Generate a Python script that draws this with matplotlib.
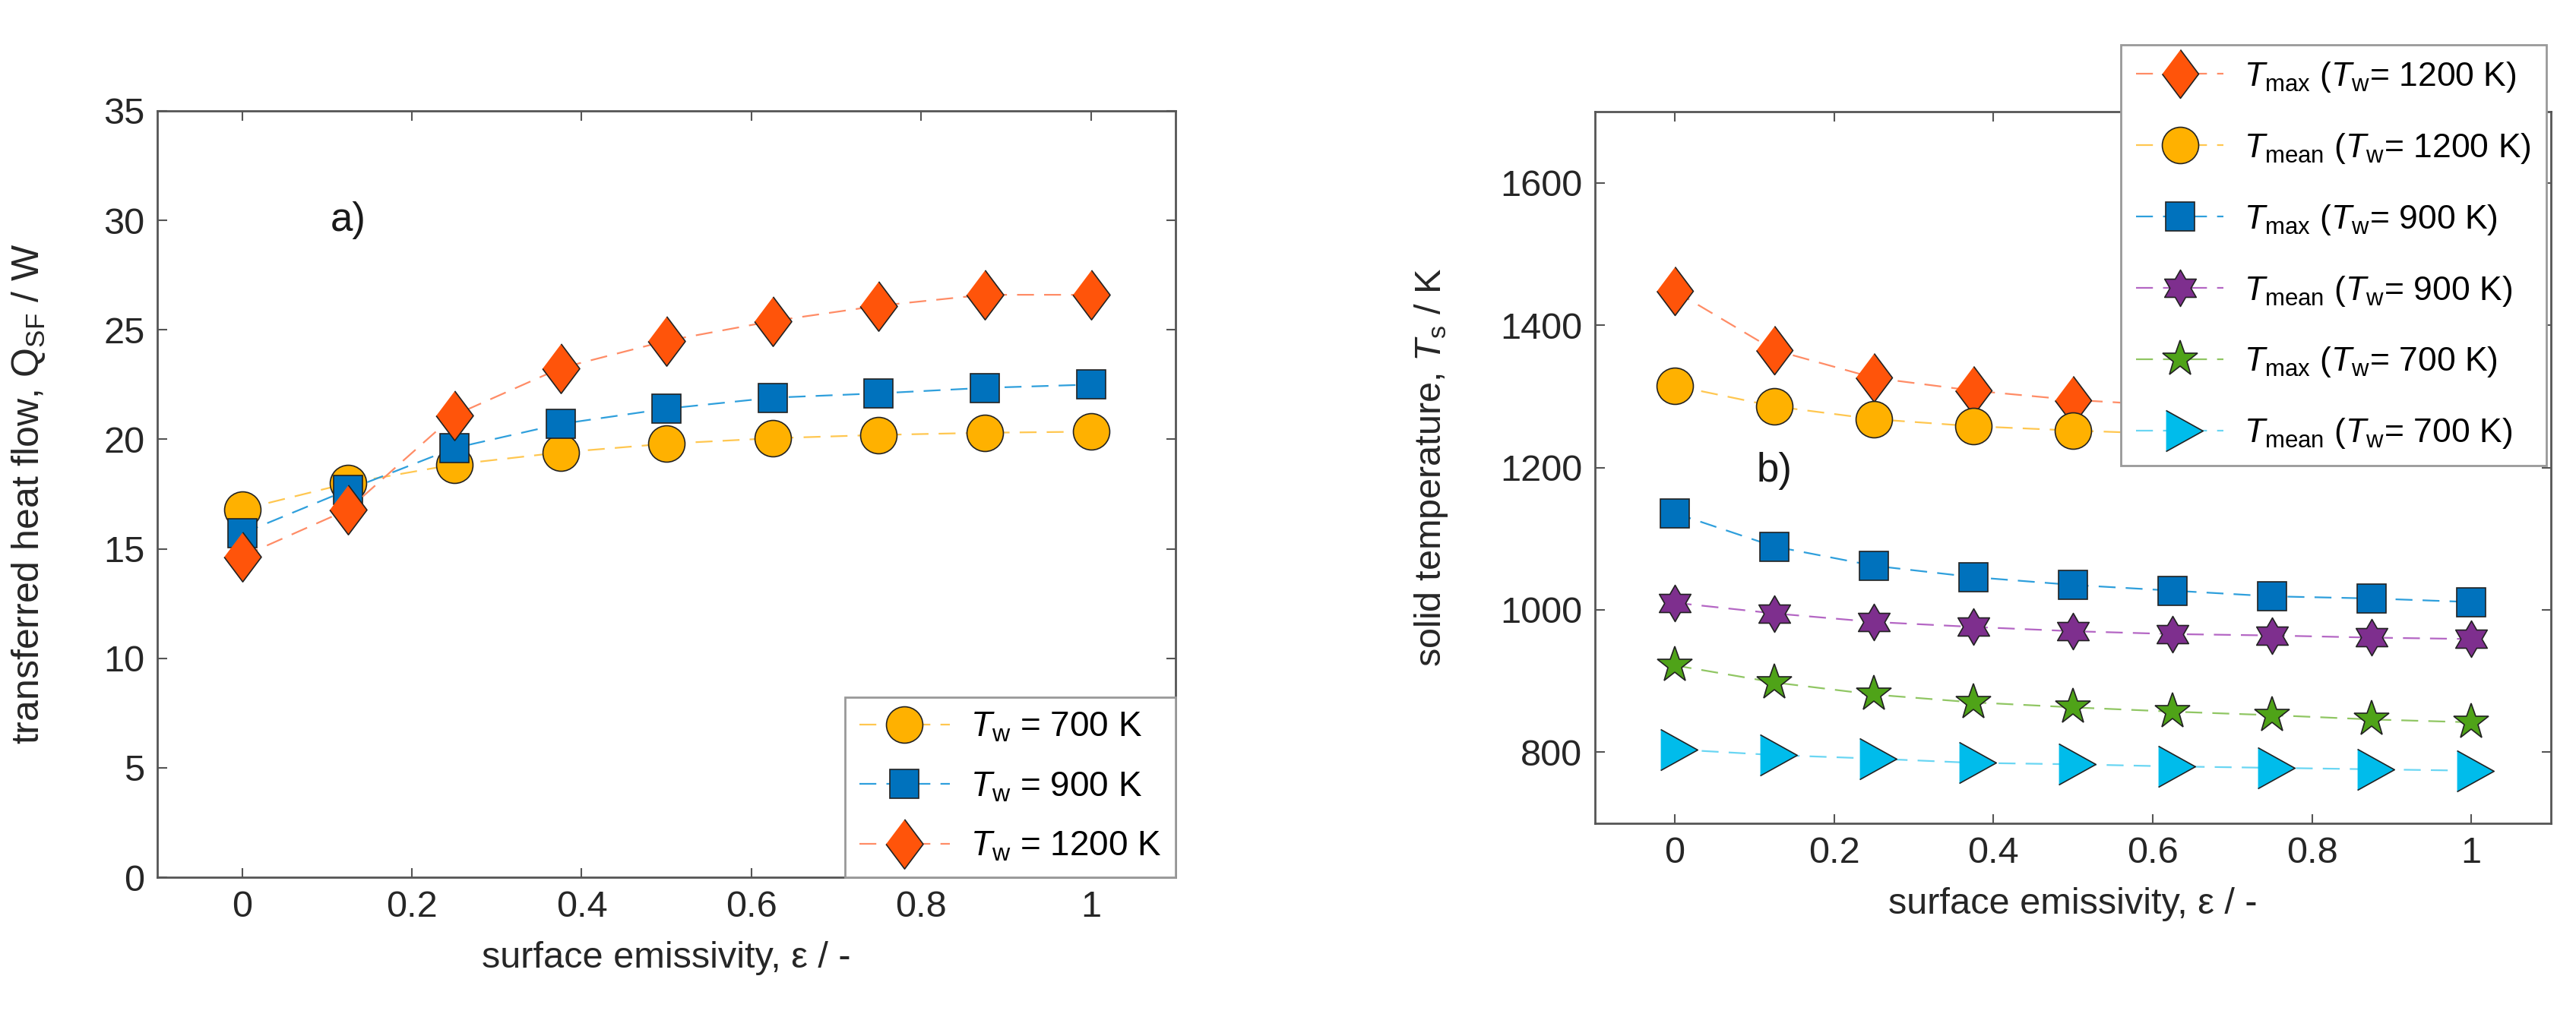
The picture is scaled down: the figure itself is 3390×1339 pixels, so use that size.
import numpy as np
import matplotlib
matplotlib.use("Agg")
import matplotlib.pyplot as plt
from matplotlib.path import Path

plt.rcParams['font.family'] = ['Liberation Sans', 'DejaVu Sans']
plt.rcParams['mathtext.fontset'] = 'custom'
plt.rcParams['mathtext.rm'] = 'Liberation Sans'
plt.rcParams['mathtext.it'] = 'Liberation Sans:italic'
plt.rcParams['mathtext.bf'] = 'Liberation Sans:bold'

# emissivity values (both panels)
emissivity = [0, 0.125, 0.25, 0.375, 0.5, 0.625, 0.75, 0.875, 1.0]

# panel a) transferred heat flow Q_SF / W
q_700 = [16.8, 18.0, 18.85, 19.4, 19.8, 20.05, 20.2, 20.3, 20.35]
q_900 = [15.7, 17.7, 19.6, 20.7, 21.4, 21.9, 22.1, 22.35, 22.5]
q_1200 = [14.65, 16.8, 21.1, 23.25, 24.5, 25.4, 26.1, 26.6, 26.6]

# panel b) solid temperature T_s / K
tmax_1200 = [1448, 1365, 1326, 1308, 1295, 1287, 1282, 1278, 1270]
tmean_1200 = [1315, 1286, 1268, 1258, 1252, 1247, 1244, 1241, 1238]
tmax_900 = [1136, 1089, 1062, 1046, 1035, 1027, 1019, 1016, 1011]
tmean_900 = [1010, 995, 983, 976, 970, 966, 964, 961, 959]
tmax_700 = [922, 898, 881, 870, 863, 857, 852, 846, 842]
tmean_700 = [804, 796, 791, 785, 783, 780, 778, 776, 774]

# marker shapes
diamond = [(0, 1), (0.75, 0), (0, -1), (-0.75, 0)]
tri_right = [(-0.7, 1), (1.1, 0), (-0.7, -1)]
hexagram = Path.unit_regular_star(6, 0.577)

c_orange, l_orange = '#FF540A', '#FF8C66'
c_yellow, l_yellow = '#FFB100', '#FFC750'
c_blue, l_blue = '#0072BD', '#2E9FDC'
c_purple, l_purple = '#7E2F8E', '#B466C4'
c_green, l_green = '#4FA318', '#90C663'
c_cyan, l_cyan = '#00BCEB', '#6AD6F3'

dash = (0, (10, 6))
edge = '#222222'

fig = plt.figure(figsize=(33.9, 13.39), dpi=100)
ax1 = fig.add_axes([0.0611, 0.1374, 0.3953, 0.7536])
ax2 = fig.add_axes([0.6192, 0.1904, 0.3711, 0.6998])


def style_axes(ax):
    for s in ax.spines.values():
        s.set_color('#555555')
        s.set_linewidth(2)
    ax.tick_params(direction='in', length=9, width=1.5, top=True, right=True,
                   labelsize=35, colors='#555555', labelcolor='#262626', pad=12)
    ax.set_xlim(-0.1, 1.1)
    ax.set_xticks([0, 0.2, 0.4, 0.6, 0.8, 1.0])
    ax.set_xticklabels(['0', '0.2', '0.4', '0.6', '0.8', '1'])
    ax.set_xlabel('surface emissivity, ε / -', fontsize=35, color='#262626', labelpad=16)


# ---- panel a)
ax1.plot(emissivity, q_700, linestyle=dash, color=l_yellow, lw=1.6, marker='o', ms=34.5,
         mfc=c_yellow, mec=edge, mew=1.2, label=r'$T_\mathrm{w}$ = 700 K')
ax1.plot(emissivity, q_900, linestyle=dash, color=l_blue, lw=1.6, marker='s', ms=28,
         mfc=c_blue, mec=edge, mew=1.2, label=r'$T_\mathrm{w}$ = 900 K')
ax1.plot(emissivity, q_1200, linestyle=dash, color=l_orange, lw=1.6, marker=diamond, ms=47,
         mfc=c_orange, mec=edge, mew=1.2, label=r'$T_\mathrm{w}$ = 1200 K')
style_axes(ax1)
ax1.set_ylim(0, 35)
ax1.set_yticks(np.arange(0, 36, 5))
ax1.set_ylabel(r'transferred heat flow, Q$_\mathrm{SF}$ / W', fontsize=36, color='#262626')
ax1.yaxis.set_label_coords(-0.108, 0.5)
ax1.text(0.125, 30, 'a)', fontsize=38, ha='center', va='center', color='#1a1a1a')
leg1 = ax1.legend(loc='lower right', bbox_to_anchor=(1.0, 0.0), borderaxespad=0,
                  fontsize=33, handlelength=2.6, handletextpad=0.6, labelspacing=0.75,
                  fancybox=False, framealpha=1, edgecolor='#999999', borderpad=0.4)
leg1.get_frame().set_linewidth(2)

# ---- panel b)
series_b = [
    (tmax_1200, c_orange, l_orange, diamond, 46, r'$T_\mathrm{max}$ ($T_\mathrm{w}$= 1200 K)'),
    (tmean_1200, c_yellow, l_yellow, 'o', 34.5, r'$T_\mathrm{mean}$ ($T_\mathrm{w}$= 1200 K)'),
    (tmax_900, c_blue, l_blue, 's', 27, r'$T_\mathrm{max}$ ($T_\mathrm{w}$= 900 K)'),
    (tmean_900, c_purple, l_purple, hexagram, 34.5, r'$T_\mathrm{mean}$ ($T_\mathrm{w}$= 900 K)'),
    (tmax_700, c_green, l_green, '*', 35.5, r'$T_\mathrm{max}$ ($T_\mathrm{w}$= 700 K)'),
    (tmean_700, c_cyan, l_cyan, tri_right, 42.8, r'$T_\mathrm{mean}$ ($T_\mathrm{w}$= 700 K)'),
]
for vals, mc, lc, mk, ms, lab in series_b:
    ax2.plot(emissivity, vals, linestyle=dash, color=lc, lw=1.6, marker=mk, ms=ms,
             mfc=mc, mec=edge, mew=1.2, label=lab)
style_axes(ax2)
ax2.set_ylim(700, 1700)
ax2.set_yticks([800, 1000, 1200, 1400, 1600])
ax2.set_ylabel(r'solid temperature, $T_\mathrm{s}$ / K', fontsize=35, color='#262626')
ax2.yaxis.set_label_coords(-0.152, 0.5)
ax2.text(0.125, 1195, 'b)', fontsize=38, ha='center', va='center', color='#1a1a1a')
leg2 = ax2.legend(loc='upper right', bbox_to_anchor=(0.995, 1.094), borderaxespad=0,
                  fontsize=32, handlelength=2.6, handletextpad=0.6, labelspacing=1.1,
                  fancybox=False, framealpha=1, edgecolor='#999999', borderpad=0.45)
leg2.get_frame().set_linewidth(2)

fig.savefig('out.png', dpi=100)
